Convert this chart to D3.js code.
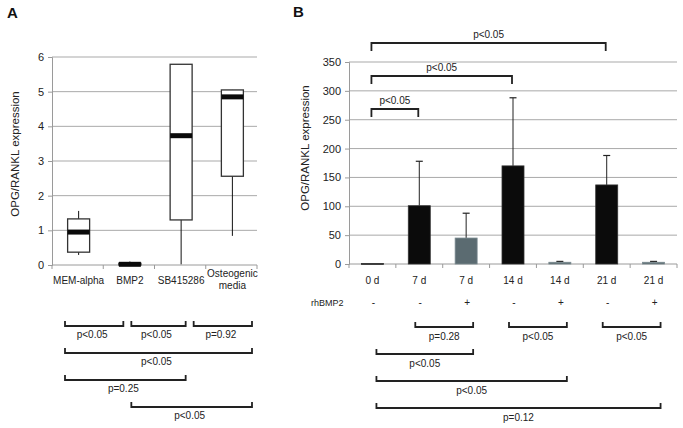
<!DOCTYPE html>
<html><head><meta charset="utf-8">
<script src="https://cdn.jsdelivr.net/npm/d3@7"></script>
<style>
html,body{margin:0;padding:0;background:#fff;}
svg{display:block;font-family:"Liberation Sans",Arial,sans-serif;}
</style></head>
<body>
<svg id="chart" width="683" height="428"></svg>
<script>
// ---------- Panel A data ----------
const catsA = ["MEM-alpha", "BMP2", "SB415286", "Osteogenic media"];
const whiskerLowA = [0.29, 0.0, 0.02, 0.84];
const q1A = [0.37, 0.0, 1.3, 2.56];
const medianA = [0.95, 0.02, 3.73, 4.85];
const q3A = [1.33, 0.05, 5.79, 5.05];
const whiskerHighA = [1.56, 0.1, 5.79, 5.05];
const ticksA = [0, 1, 2, 3, 4, 5, 6];
// bracket: [from slot, to slot, label, row]
const bracketsA = [[0, 1, "p<0.05", 0], [1, 2, "p<0.05", 0], [2, 3, "p=0.92", 0],
                   [0, 3, "p<0.05", 1], [0, 2, "p=0.25", 2], [1, 3, "p<0.05", 3]];

// ---------- Panel B data ----------
const catsB = ["0 d", "7 d", "7 d", "14 d", "14 d", "21 d", "21 d"];
const rhBMP2 = ["-", "-", "+", "-", "+", "-", "+"];
const meansB = [1, 101, 45, 170, 3, 137, 3];
const errTopB = [1, 178, 88, 288, 4.5, 188, 4.5];
const groupB = ["ctrl", "ctrl", "bmp", "ctrl", "bmp", "ctrl", "bmp"];
const ticksB = [0, 50, 100, 150, 200, 250, 300, 350];
const topBracketsB = [[0, 5, "p<0.05", 0], [0, 3, "p<0.05", 1], [0, 1, "p<0.05", 2]];
const bottomBracketsB = [[1, 2, "p=0.28", 0], [3, 4, "p<0.05", 0], [5, 6, "p<0.05", 0],
                         [0, 2, "p<0.05", 1], [0, 4, "p<0.05", 2], [0, 6, "p=0.12", 3]];

const svg = d3.select("#chart");
const gridCol = "#a9a9a9", axisCol = "#9a9a9a", txt = "#222";
const FS = 10, FT = 11;

// ============ Panel A ============
const xA = d3.scaleBand().domain(d3.range(catsA.length)).range([52, 257]);
const yA = d3.scaleLinear().domain([0, 6]).range([265, 57]);
const gA = svg.append("g");

gA.append("text").attr("x", 7).attr("y", 18).attr("font-size", 15).attr("font-weight", "bold")
  .attr("fill", "#111").text("A");

gA.selectAll("line.grid").data(ticksA.filter(d => d > 0)).join("line")
  .attr("x1", 52).attr("x2", 257).attr("y1", d => yA(d)).attr("y2", d => yA(d))
  .attr("stroke", gridCol).attr("stroke-width", 1);

const axA = gA.append("g").attr("transform", "translate(52,0)")
  .call(d3.axisLeft(yA).tickValues(ticksA).tickFormat(d3.format("d")).tickSize(4).tickPadding(4));
axA.select(".domain").attr("stroke", axisCol);
axA.selectAll(".tick line").attr("stroke", axisCol);
axA.selectAll("text").attr("font-size", FT).attr("fill", txt).attr("font-family", "Liberation Sans, Arial");

gA.append("line").attr("x1", 52).attr("x2", 257).attr("y1", yA(0)).attr("y2", yA(0)).attr("stroke", axisCol);
gA.selectAll("line.bt").data(d3.range(catsA.length + 1)).join("line")
  .attr("x1", d => 52 + d * xA.step()).attr("x2", d => 52 + d * xA.step())
  .attr("y1", yA(0)).attr("y2", yA(0) + 4).attr("stroke", axisCol);

gA.selectAll("text.cat").data(catsA).join("text")
  .attr("text-anchor", "middle").attr("font-size", FS).attr("fill", txt)
  .each(function (d, i) {
    const t = d3.select(this);
    const cx = xA(i) + xA.bandwidth() / 2 + 1;
    if (d === "Osteogenic media") {
      t.append("tspan").attr("x", cx).attr("y", 277).text("Osteogenic");
      t.append("tspan").attr("x", cx).attr("y", 289).text("media");
    } else {
      t.attr("x", cx).attr("y", 284).text(d);
    }
  });

const boxW = 22;
const boxes = gA.selectAll("g.box").data(catsA.map((c, i) => i)).join("g");
boxes.append("line")
  .attr("x1", i => xA(i) + xA.bandwidth() / 2 + 1).attr("x2", i => xA(i) + xA.bandwidth() / 2 + 1)
  .attr("y1", i => yA(whiskerLowA[i])).attr("y2", i => yA(whiskerHighA[i]))
  .attr("stroke", "#111").attr("stroke-width", 1);
boxes.append("rect")
  .attr("x", i => xA(i) + xA.bandwidth() / 2 + 1 - boxW / 2).attr("width", boxW)
  .attr("y", i => yA(q3A[i])).attr("height", i => yA(q1A[i]) - yA(q3A[i]))
  .attr("fill", i => i === 1 ? "#111" : "#fff").attr("stroke", "#333").attr("stroke-width", 1.3);
boxes.append("line")
  .attr("x1", i => xA(i) + xA.bandwidth() / 2 + 1 - boxW / 2).attr("x2", i => xA(i) + xA.bandwidth() / 2 + 1 + boxW / 2)
  .attr("y1", i => yA(medianA[i])).attr("y2", i => yA(medianA[i]))
  .attr("stroke", "#0a0a0a").attr("stroke-width", 5);

const slotA = d3.scaleLinear().domain([0, 3]).range([65, 252]);
const rowA = d3.scaleLinear().domain([0, 3]).range([326, 407]);
bracketsA.forEach(([a, b, lab, r]) => {
  const x1 = slotA(a) + (a > 0 ? 4 : 0), x2 = slotA(b) - (b < 3 ? 4 : 0), y = rowA(r);
  gA.append("path").attr("d", `M${x1},${y - 5}V${y}H${x2}V${y - 5}`)
    .attr("fill", "none").attr("stroke", "#222").attr("stroke-width", 1.8);
  gA.append("text").attr("x", (x1 + x2) / 2 - 2).attr("y", y + 12).attr("text-anchor", "middle")
    .attr("font-size", FS).attr("fill", txt).text(lab);
});

gA.append("text").attr("transform", `translate(19,${(yA(0) + yA(6)) / 2 - 7}) rotate(-90)`)
  .attr("text-anchor", "middle").attr("font-size", 11.5).attr("fill", txt).text("OPG/RANKL expression");

// ============ Panel B ============
const xB = d3.scaleBand().domain(d3.range(catsB.length)).range([349, 677]);
const yB = d3.scaleLinear().domain([0, 350]).range([264, 62]);
const gB = svg.append("g");
const cxB = i => xB(i) + xB.bandwidth() / 2;

gB.append("text").attr("x", 293).attr("y", 17).attr("font-size", 15).attr("font-weight", "bold")
  .attr("fill", "#111").text("B");

gB.selectAll("line.grid").data(ticksB.filter(d => d > 0)).join("line")
  .attr("x1", 349).attr("x2", 677).attr("y1", d => yB(d)).attr("y2", d => yB(d))
  .attr("stroke", gridCol).attr("stroke-width", 1);

const axB = gB.append("g").attr("transform", "translate(349,0)")
  .call(d3.axisLeft(yB).tickValues(ticksB).tickSize(4).tickPadding(4));
axB.select(".domain").attr("stroke", axisCol);
axB.selectAll(".tick line").attr("stroke", axisCol);
axB.selectAll("text").attr("font-size", FT).attr("fill", txt).attr("font-family", "Liberation Sans, Arial");

gB.append("line").attr("x1", 349).attr("x2", 677).attr("y1", yB(0)).attr("y2", yB(0)).attr("stroke", axisCol);
gB.selectAll("line.bt").data(d3.range(catsB.length + 1)).join("line")
  .attr("x1", d => 349 + d * xB.step()).attr("x2", d => 349 + d * xB.step())
  .attr("y1", yB(0)).attr("y2", yB(0) + 4).attr("stroke", axisCol);

const barW = 22;
const errIdx = meansB.map((m, i) => i).filter(i => errTopB[i] > meansB[i] + 0.5);
gB.selectAll("line.err").data(errIdx).join("line")
  .attr("x1", i => cxB(i)).attr("x2", i => cxB(i))
  .attr("y1", i => yB(meansB[i])).attr("y2", i => yB(errTopB[i]))
  .attr("stroke", "#222").attr("stroke-width", 1);
gB.selectAll("line.cap").data(errIdx).join("line")
  .attr("x1", i => cxB(i) - 3.5).attr("x2", i => cxB(i) + 3.5)
  .attr("y1", i => yB(errTopB[i])).attr("y2", i => yB(errTopB[i]))
  .attr("stroke", "#222").attr("stroke-width", 1.2);
gB.selectAll("rect.bar").data(meansB).join("rect")
  .attr("x", (d, i) => cxB(i) - barW / 2).attr("width", barW)
  .attr("y", d => yB(d)).attr("height", d => Math.max(1, yB(0) - yB(d)))
  .attr("fill", (d, i) => groupB[i] === "ctrl" ? "#0b0b0b" : "#5b6b71")
  .attr("stroke", (d, i) => groupB[i] === "ctrl" ? "#333" : "#7a8a90").attr("stroke-width", 0.8);

gB.selectAll("text.cat").data(catsB).join("text")
  .attr("x", (d, i) => cxB(i)).attr("y", 284).attr("text-anchor", "middle")
  .attr("font-size", FS).attr("fill", txt).text(d => d);

gB.append("text").attr("x", 311).attr("y", 306).attr("font-size", 9).attr("fill", txt).text("rhBMP2");
gB.selectAll("text.sign").data(rhBMP2).join("text")
  .attr("x", (d, i) => cxB(i) + 1).attr("y", 306).attr("text-anchor", "middle")
  .attr("font-size", FS).attr("fill", txt).text(d => d);

const topRow = d3.scaleLinear().domain([0, 2]).range([43, 109]);
topBracketsB.forEach(([a, b, lab, r]) => {
  const x1 = cxB(a) - 1, x2 = cxB(b) - 1, y = topRow(r);
  gB.append("path").attr("d", `M${x1},${y + 8}V${y}H${x2}V${y + 8}`)
    .attr("fill", "none").attr("stroke", "#222").attr("stroke-width", 1.8);
  gB.append("text").attr("x", (x1 + x2) / 2).attr("y", y - 5).attr("text-anchor", "middle")
    .attr("font-size", FS).attr("fill", txt).text(lab);
});

const botRow = d3.scaleLinear().domain([0, 3]).range([327, 408]);
bottomBracketsB.forEach(([a, b, lab, r]) => {
  const x1 = cxB(a) + (a === 0 ? 4 : -4), x2 = cxB(b) + 7, y = botRow(r);
  gB.append("path").attr("d", `M${x1},${y - 5}V${y}H${x2}V${y - 5}`)
    .attr("fill", "none").attr("stroke", "#222").attr("stroke-width", 1.8);
  gB.append("text").attr("x", (x1 + x2) / 2).attr("y", y + 13).attr("text-anchor", "middle")
    .attr("font-size", FS).attr("fill", txt).text(lab);
});

gB.append("text").attr("transform", `translate(309,${(yB(0) + yB(350)) / 2 - 15}) rotate(-90)`)
  .attr("text-anchor", "middle").attr("font-size", 11.5).attr("fill", txt).text("OPG/RANKL expression");
</script>
</body></html>
